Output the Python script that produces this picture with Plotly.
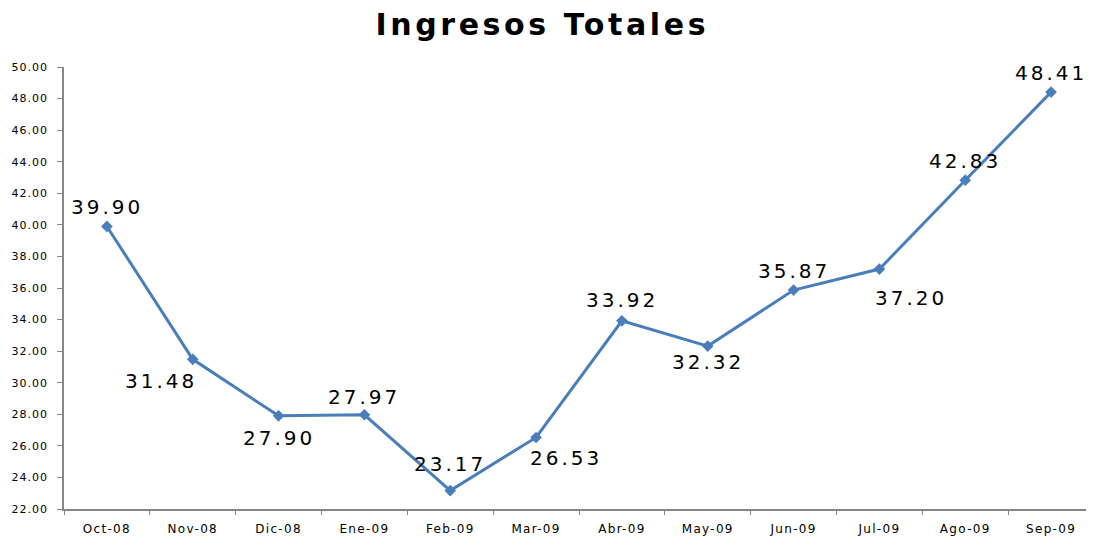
import plotly.graph_objects as go

months = ["Oct-08", "Nov-08", "Dic-08", "Ene-09", "Feb-09", "Mar-09",
          "Abr-09", "May-09", "Jun-09", "Jul-09", "Ago-09", "Sep-09"]
ingresos = [39.90, 31.48, 27.90, 27.97, 23.17, 26.53,
            33.92, 32.32, 35.87, 37.20, 42.83, 48.41]
y_ticks = [22, 24, 26, 28, 30, 32, 34, 36, 38, 40, 42, 44, 46, 48, 50]
title_text = "Ingresos Totales"

# label offsets (style) in pixels relative to each point
label_dx = [0, -32, 0, 0, 0, 30, 0, 0, 0, 32, 0, 0]
label_dy = [19, -22, -22, 18, 27, -21, 21, -16, 19, -29, 19, 19]

LS = "letter-spacing:{}px"

def spaced(s, px):
    return f'<span style="{LS.format(px)}">{s}</span>'

fig = go.Figure()
fig.add_trace(go.Scatter(
    x=months, y=ingresos, mode="lines+markers",
    line=dict(color="#4A7EBB", width=3),
    marker=dict(symbol="diamond", size=9, color="#4A7EBB"),
    hoverinfo="skip", showlegend=False,
))

for m, v, dx, dy in zip(months, ingresos, label_dx, label_dy):
    fig.add_annotation(x=m, y=v, text=spaced(f"{v:.2f}", 3), showarrow=False,
                       xshift=dx, yshift=dy,
                       font=dict(family="DejaVu Sans", size=20, color="#000000"))

fig.update_layout(
    width=1086, height=528,
    margin=dict(l=56, r=0, t=59, b=19),
    paper_bgcolor="white", plot_bgcolor="white",
    title=dict(text=spaced(title_text, 3.6), x=0.492, xanchor="center", y=0.968, yanchor="middle",
               font=dict(family="DejaVu Sans", size=30, color="#000000", weight="bold")),
    font=dict(family="DejaVu Sans", color="#000000"),
)
fig.update_xaxes(
    type="category", showgrid=False, zeroline=False,
    showline=True, linecolor="#868686", linewidth=1.5,
    ticks="outside", ticklen=4, tickcolor="#868686", tickson="boundaries",
    tickvals=months, ticktext=[spaced(m, 1.3) for m in months],
    tickfont=dict(size=12), ticklabelstandoff=8, range=[-0.5, 11.5],
)
fig.update_yaxes(
    range=[22, 50], tickvals=y_ticks, ticktext=[spaced(f"{t:.2f}", 1) for t in y_ticks],
    showgrid=False, zeroline=False,
    showline=True, linecolor="#868686", linewidth=1.5,
    ticks="outside", ticklen=5, tickcolor="#868686",
    tickfont=dict(size=11), ticklabelstandoff=7,
)

fig.write_html("out.html")
